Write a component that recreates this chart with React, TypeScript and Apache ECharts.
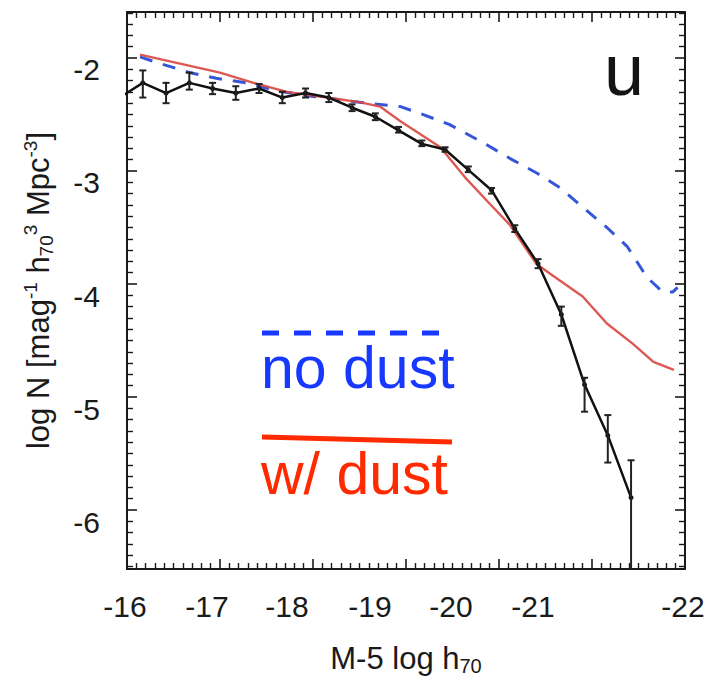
import React, { useEffect, useRef } from "react";
import * as echarts from "echarts";

const FONT = '"Liberation Sans", Arial, Helvetica, sans-serif';

// x tick labels (absolute magnitude)
const xTickLabels = ["-16", "-17", "-18", "-19", "-20", "-21", "-22"];
// y tick labels (log N)
const yTickLabels = ["-2", "-3", "-4", "-5", "-6"];

// Observed luminosity function (black points with error bars)
const magBins = [
  -15.92, -16.17, -16.42, -16.67, -16.92, -17.17, -17.42, -17.67, -17.92, -18.17, -18.42, -18.67,
  -18.92, -19.17, -19.42, -19.67, -19.92, -20.17, -20.42, -20.67, -20.92, -21.17, -21.42,
];
const observedLogN = [
  -2.35, -2.22, -2.31, -2.22, -2.27, -2.31, -2.27, -2.35, -2.31, -2.35, -2.44, -2.52,
  -2.64, -2.76, -2.81, -2.99, -3.17, -3.51, -3.82, -4.27, -4.89, -5.34, -5.89,
];
const observedErrLow = [
  -2.45, -2.35, -2.4, -2.28, -2.32, -2.37, -2.31, -2.4, -2.35, -2.39, -2.47, -2.55,
  -2.66, -2.78, -2.83, -3.01, -3.2, -3.54, -3.86, -4.37, -5.13, -5.58, -6.7,
];
const observedErrHigh = [
  -2.25, -2.11, -2.22, -2.13, -2.22, -2.25, -2.23, -2.3, -2.27, -2.31, -2.41, -2.49,
  -2.61, -2.73, -2.79, -2.96, -3.15, -3.48, -3.78, -4.2, -4.83, -5.16, -5.56,
];

// Model with dust (red solid)
const dustMag = [
  -16.14, -16.57, -17.0, -17.36, -17.72, -18.15, -18.5, -18.72, -18.94, -19.37, -19.65, -19.9,
  -20.12, -20.4, -20.55, -20.9, -21.16, -21.44, -21.66, -21.88,
];
const dustLogN = [
  -1.97, -2.05, -2.13, -2.22, -2.3, -2.35, -2.39, -2.43, -2.56, -2.79, -3.07, -3.29,
  -3.48, -3.82, -3.91, -4.11, -4.35, -4.53, -4.69, -4.76,
];

// Model without dust (blue dashed)
const noDustMag = [
  -16.14, -16.32, -16.68, -16.96, -17.29, -17.61, -18.0, -18.58, -18.94, -19.15, -19.47, -19.83,
  -20.12, -20.41, -20.66, -20.9, -21.16, -21.38, -21.59, -21.76, -21.87, -21.92,
];
const noDustLogN = [
  -1.99, -2.04, -2.13, -2.18, -2.22, -2.29, -2.34, -2.4, -2.43, -2.49, -2.59, -2.75,
  -2.89, -3.02, -3.15, -3.32, -3.5, -3.67, -3.94, -4.07, -4.07, -4.03,
];

export default function App() {
  const ref = useRef<HTMLDivElement>(null);

  useEffect(() => {
    if (!ref.current) return;
    const chart = echarts.init(ref.current, undefined, { renderer: "svg" });

    const labelShift: Record<string, number> = {
      "-16": -2, "-17": -13, "-18": -26, "-19": -36, "-20": -48, "-21": -59, "-22": -2,
    };
    const xRich: Record<string, any> = {};
    xTickLabels.forEach((t, i) => {
      const s = labelShift[t] || 0;
      xRich["t" + i] = {
        fontSize: 30,
        fontFamily: FONT,
        color: "#1a1a1a",
        padding: s < 0 ? [0, -2 * s, 0, 0] : [0, 0, 0, 2 * s],
      };
    });

    const axisCommon: any = {
      type: "value",
      axisLine: { show: true, onZero: false, lineStyle: { color: "#1a1a1a", width: 2 } },
      axisTick: { show: true, inside: true, length: 10, lineStyle: { color: "#1a1a1a", width: 1.6 } },
      minorTick: { show: true, splitNumber: 10, length: 6, lineStyle: { color: "#1a1a1a", width: 1.4 } },
      splitLine: { show: false },
      minorSplitLine: { show: false },
    };

    const option: any = {
      animation: false,
      backgroundColor: "#ffffff",
      grid: { left: 127, top: 12, width: 558, height: 557, containLabel: false },
      xAxis: [
        {
          ...axisCommon,
          position: "bottom",
          min: -22,
          max: -16,
          interval: 1,
          inverse: true,
          axisLabel: {
            show: true,
            margin: 22,
            formatter: (v: number) => {
              const i = xTickLabels.indexOf(String(Math.round(v)));
              return i >= 0 ? `{t${i}|${xTickLabels[i]}}` : "";
            },
            rich: xRich,
          },
          name: "{a|M-5 log h}{s|70}",
          nameLocation: "middle",
          nameGap: 70,
          nameTextStyle: {
            rich: {
              a: { fontSize: 31, fontFamily: FONT, color: "#1a1a1a", lineHeight: 38 },
              s: { fontSize: 20, fontFamily: FONT, color: "#1a1a1a", lineHeight: 20, padding: [16, 0, 0, 0] },
            },
          },
        },
        {
          ...axisCommon,
          position: "top",
          min: -22,
          max: -16,
          interval: 1,
          inverse: true,
          axisLabel: { show: false },
        },
      ],
      yAxis: [
        {
          ...axisCommon,
          position: "left",
          min: -6.522,
          max: -1.593,
          splitNumber: 5,
          axisLabel: {
            show: true,
            margin: 27,
            showMinLabel: false,
            showMaxLabel: false,
            formatter: (v: number) => {
              const i = yTickLabels.indexOf(String(Math.round(v)));
              return i >= 0 ? `{v|${yTickLabels[i]}}` : "";
            },
            rich: {
              v: { fontSize: 30, fontFamily: FONT, color: "#1a1a1a", padding: [24, 0, 0, 0] },
            },
          },
          name: "{a|log N [mag}{p|-1}{a| h}{s|70}{p|3}{a| Mpc}{p|-3}{a|]}",
          nameLocation: "middle",
          nameGap: 70,
          nameTextStyle: {
            rich: {
              a: { fontSize: 31, fontFamily: FONT, color: "#1a1a1a", lineHeight: 38 },
              s: { fontSize: 19, fontFamily: FONT, color: "#1a1a1a", lineHeight: 20, padding: [16, 0, 0, 0] },
              p: { fontSize: 19, fontFamily: FONT, color: "#1a1a1a", lineHeight: 20, padding: [0, 0, 16, 0] },
            },
          },
        },
        {
          ...axisCommon,
          position: "right",
          min: -6.522,
          max: -1.593,
          splitNumber: 5,
          axisLabel: { show: false },
        },
      ],
      series: [
        {
          name: "no dust",
          type: "line",
          data: noDustMag.map((x, i) => [x, noDustLogN[i]]),
          showSymbol: false,
          symbol: "none",
          lineStyle: { color: "#3556d8", width: 3, type: [13, 11] },
          clip: true,
          z: 2,
        },
        {
          name: "w/ dust",
          type: "line",
          data: dustMag.map((x, i) => [x, dustLogN[i]]),
          showSymbol: false,
          symbol: "none",
          lineStyle: { color: "#d9463f", width: 2.4, opacity: 0.9 },
          clip: true,
          z: 3,
        },
        {
          name: "observed",
          type: "line",
          data: magBins.map((x, i) => [x, observedLogN[i]]),
          symbol: "circle",
          symbolSize: 5,
          itemStyle: { color: "#111111" },
          lineStyle: { color: "#111111", width: 2.5 },
          clip: true,
          z: 4,
        },
        {
          name: "errors",
          type: "custom",
          data: magBins.map((x, i) => [x, observedErrLow[i], observedErrHigh[i]]),
          encode: { x: 0, y: [1, 2] },
          clip: true,
          z: 5,
          renderItem: (params: any, api: any) => {
            const lo = api.coord([api.value(0), api.value(1)]);
            const hi = api.coord([api.value(0), api.value(2)]);
            const cap = 3.5;
            const st = { stroke: "#222222", lineWidth: 2 };
            return {
              type: "group",
              children: [
                { type: "line", shape: { x1: lo[0], y1: lo[1], x2: hi[0], y2: hi[1] }, style: st },
                { type: "line", shape: { x1: lo[0] - cap, y1: lo[1], x2: lo[0] + cap, y2: lo[1] }, style: st },
                { type: "line", shape: { x1: hi[0] - cap, y1: hi[1], x2: hi[0] + cap, y2: hi[1] }, style: st },
              ],
            };
          },
        },
      ],
      graphic: [
        {
          type: "text",
          left: 604,
          top: 34,
          style: { text: "u", fontSize: 72, fontFamily: FONT, fill: "#151515" },
        },
        {
          type: "line",
          shape: { x1: 262, y1: 333, x2: 440, y2: 333 },
          style: { stroke: "#1638ff", lineWidth: 5, lineDash: [17, 15] },
        },
        {
          type: "text",
          left: 261,
          top: 338,
          style: { text: "no dust", fontSize: 59, fontFamily: FONT, fill: "#1638ff" },
        },
        {
          type: "line",
          shape: { x1: 262, y1: 437, x2: 452, y2: 442 },
          style: { stroke: "#ff2a00", lineWidth: 5 },
        },
        {
          type: "text",
          left: 261,
          top: 444,
          style: { text: "w/ dust", fontSize: 59, fontFamily: FONT, fill: "#ff2a00" },
        },
      ],
    };

    chart.setOption(option);
    return () => chart.dispose();
  }, []);

  return (
    <div
      ref={ref}
      style={{ position: "fixed", left: 0, top: 0, width: 714, height: 697, background: "#fff" }}
    />
  );
}
